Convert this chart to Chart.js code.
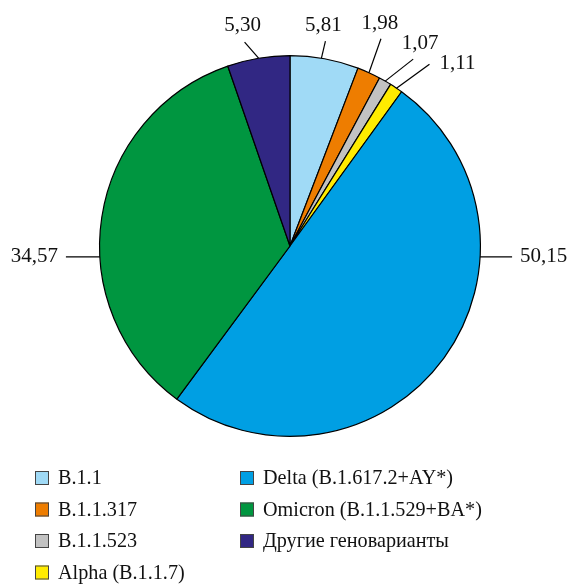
<!DOCTYPE html>
<html>
<head>
<meta charset="utf-8">
<script src="https://cdn.jsdelivr.net/npm/chart.js@4"></script>
<style>
  html, body { margin: 0; padding: 0; background: #fff; }
  #wrap { width: 570px; height: 588px; position: relative; }
</style>
</head>
<body>
<div id="wrap"><canvas id="chart1" width="570" height="588"></canvas></div>
<script>
// genovariant shares, %
const labels = ['B.1.1', 'B.1.1.317', 'B.1.1.523', 'Alpha (B.1.1.7)', 'Delta (B.1.617.2+AY*)', 'Omicron (B.1.1.529+BA*)', 'Другие геноварианты'];
const values = [5.81, 1.98, 1.07, 1.11, 50.15, 34.57, 5.30];
const valueLabels = ['5,81', '1,98', '1,07', '1,11', '50,15', '34,57', '5,30'];
const colors = ['#A0DAF6', '#EE7D00', '#C2C2C2', '#FFEB00', '#009FE3', '#009640', '#312783'];

// legend layout: two columns, order as in the figure
const legendCols = [[0, 1, 2, 3], [4, 5, 6]];

// leader line placement: start angle (deg from top, clockwise), line end offset, text offset, align
const labelPlace = [
    { a: 9.5,   ex: 4,   ey: -17, tx: -2, ty: -16, align: 'center' },
    { a: 24.5,  ex: 12,  ey: -34, tx: -1, ty: -15, align: 'center' },
    { a: 30,    ex: 28,  ey: -22, tx: 7,  ty: -16, align: 'center' },
    { a: 34,    ex: 33,  ey: -24, tx: 10, ty: -1,  align: 'left' },
    { a: 93.3,  ex: 32,  ey: 0,   tx: 8,  ty: 0,   align: 'left' },
    { a: 266.7, ex: -34, ey: 0,   tx: -8, ty: 0,   align: 'right' },
    { a: -9.5,  ex: -14, ey: -16, tx: -2, ty: -17, align: 'center' }
];

const leaderLabels = {
    id: 'leaderLabels',
    afterDatasetsDraw(chart) {
        const ctx = chart.ctx;
        const arc = chart.getDatasetMeta(0).data[0];
        const cx = arc.x, cy = arc.y, r = arc.outerRadius;
        ctx.save();
        ctx.strokeStyle = '#000';
        ctx.lineWidth = 1.2;
        ctx.fillStyle = '#111';
        ctx.font = '21px "Liberation Serif", "Times New Roman", serif';
        ctx.textBaseline = 'middle';
        labelPlace.forEach((p, i) => {
            const ang = p.a * Math.PI / 180;
            const sx = cx + r * Math.sin(ang);
            const sy = cy - r * Math.cos(ang);
            const ex = sx + p.ex, ey = sy + p.ey;
            ctx.beginPath();
            ctx.moveTo(sx, sy);
            ctx.lineTo(ex, ey);
            ctx.stroke();
            ctx.textAlign = p.align;
            ctx.fillText(valueLabels[i], ex + p.tx, ey + p.ty);
        });
        ctx.restore();
    }
};

const twoColLegend = {
    id: 'twoColLegend',
    afterDraw(chart) {
        const ctx = chart.ctx;
        const colX = [35, 240];
        ctx.save();
        ctx.font = '20.2px "Liberation Serif", "Times New Roman", serif';
        ctx.textBaseline = 'middle';
        ctx.textAlign = 'left';
        legendCols.forEach((col, c) => {
            col.forEach((idx, row) => {
                const y = 478 + row * 31.5;
                ctx.fillStyle = colors[idx];
                ctx.fillRect(colX[c], y - 7, 14, 14);
                ctx.strokeStyle = '#444';
                ctx.lineWidth = 1;
                ctx.strokeRect(colX[c] + 0.5, y - 6.5, 13, 13);
                ctx.fillStyle = '#111';
                ctx.fillText(labels[idx], colX[c] + 23, y + 1);
            });
        });
        ctx.restore();
    }
};

document.addEventListener('DOMContentLoaded', function() {
    const ctx1 = document.getElementById('chart1').getContext('2d');
    new Chart(ctx1, {
        type: 'pie',
        data: {
            labels: labels,
            datasets: [{
                data: values,
                backgroundColor: colors,
                borderColor: '#000',
                borderWidth: 1.2
            }]
        },
        options: {
            responsive: false,
            animation: false,
            layout: { padding: { top: 55, bottom: 151, left: 99, right: 89 } },
            plugins: {
                legend: { display: false },
                tooltip: { enabled: false }
            }
        },
        plugins: [leaderLabels, twoColLegend]
    });
});
</script>
</body>
</html>
